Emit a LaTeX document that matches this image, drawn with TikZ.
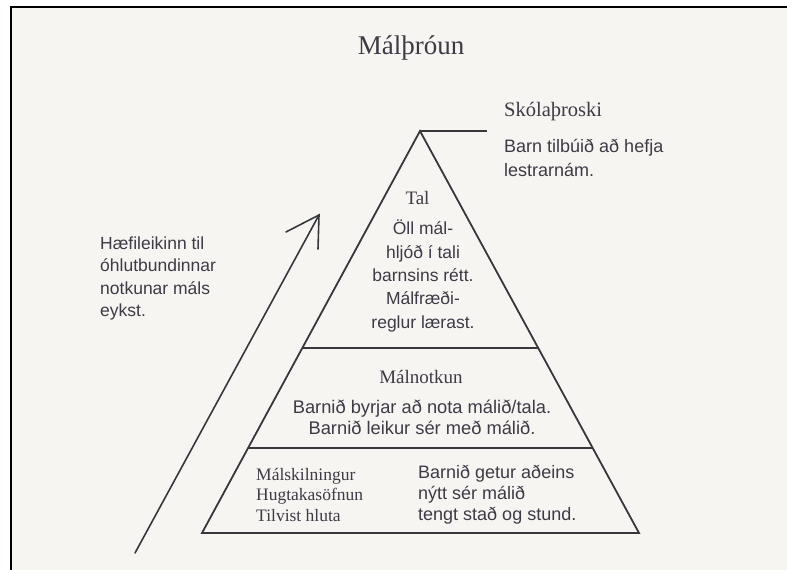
\documentclass[tikz,border=0pt]{standalone}
\usepackage{fontspec}
\setmainfont{Liberation Serif}
\newfontfamily\sansf{Liberation Sans}
\definecolor{paper}{RGB}{247,245,242}
\definecolor{ink}{RGB}{62,58,70}
\definecolor{linec}{RGB}{55,55,60}
\begin{document}
\begin{tikzpicture}[x=1pt,y=-1pt,
  serlab/.style={inner sep=0pt, text=ink, font=\fontsize{19}{20.5}\selectfont},
  sanslab/.style={inner sep=0pt, text=ink, font=\sansf\fontsize{17.5}{23}\selectfont},
  pyr/.style={draw=linec, line width=1.8pt, line join=miter},
  arr/.style={draw=linec, line width=1.6pt, line cap=round}]
\useasboundingbox (0,0) rectangle (787,570);
\fill[white] (0,0) rectangle (787,570);
\fill[paper] (11,7) rectangle (787,570);
\draw[black, line width=2.2pt] (11,570) -- (11,7) -- (787,7);

% pyramid
\coordinate (apex) at (420,131);
\coordinate (bl) at (202,533);
\coordinate (br) at (639,533);
\coordinate (u1) at (302.3,348);
\coordinate (u2) at (537.7,348);
\coordinate (m1) at (248.2,448);
\coordinate (m2) at (591.8,448);
\coordinate (tick) at (487,131);
\draw[pyr] (apex) -- (bl) -- (br) -- cycle;
\draw[pyr] (u1) -- (u2);
\draw[pyr] (m1) -- (m2);
\draw[pyr] (apex) -- (tick);

% arrow
\coordinate (a0) at (135,553);
\coordinate (a1) at (319,215);
\coordinate (b1) at (286,232);
\coordinate (b2) at (318,249);
\draw[arr] (a0) -- (a1);
\draw[arr, line join=miter] (b1) -- (a1) -- (b2);

% texts
\node[inner sep=0pt, text=ink, font=\fontsize{27}{29}\selectfont] (title) at (411,48) {Málþróun};
\node[serlab, anchor=west, font=\fontsize{20.5}{22}\selectfont] (skola) at (504,112) {Skólaþroski};
\node[sanslab, anchor=west, align=left, font=\sansf\fontsize{18}{24}\selectfont] (skolatxt) at (504,158) {Barn tilbúið að hefja\\lestrarnám.};
\node[serlab] (tal) at (417.5,198) {Tal};
\node[sanslab, align=center, font=\sansf\fontsize{17.5}{23.3}\selectfont] (taltxt) at (423,276) {Öll mál-\\hljóð í tali\\barnsins rétt.\\Málfræði-\\reglur lærast.};
\node[sanslab, anchor=west, align=left, font=\sansf\fontsize{17.5}{22.5}\selectfont] (haef) at (100,278.5) {Hæfileikinn til\\óhlutbundinnar\\notkunar máls\\eykst.};
\node[serlab] (malnot) at (421,377) {Málnotkun};
\node[sanslab, align=center, font=\sansf\fontsize{18.3}{21}\selectfont] (malnottxt) at (422,417.5) {Barnið byrjar að nota málið/tala.\\Barnið leikur sér með málið.};
\node[serlab, anchor=west, align=left, font=\fontsize{17.5}{20.5}\selectfont] (malsk) at (256,494.5) {Málskilningur\\Hugtakasöfnun\\Tilvist hluta};
\node[sanslab, anchor=west, align=left, font=\sansf\fontsize{18}{21}\selectfont] (getur) at (418,495) {Barnið getur aðeins\\nýtt sér málið\\tengt stað og stund.};
\end{tikzpicture}
\end{document}
